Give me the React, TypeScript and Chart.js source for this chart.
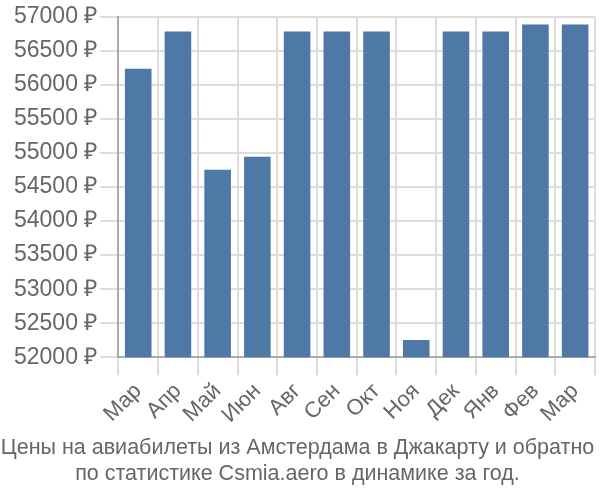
import React, { useEffect, useRef } from "react";
import { Chart, registerables } from "chart.js";

Chart.register(...registerables);

const categories = ["Мар", "Апр", "Май", "Июн", "Авг", "Сен", "Окт", "Ноя", "Дек", "Янв", "Фев", "Мар"];
const prices = [56250, 56800, 54770, 54960, 56800, 56800, 56800, 52270, 56800, 56800, 56900, 56900];
const titleLines = [
  "Цены на авиабилеты из Амстердама в Джакарту и обратно",
  "по статистике Csmia.aero в динамике за год.",
];

export default function App() {
  const ref = useRef<HTMLCanvasElement>(null);
  useEffect(() => {
    const chart = new Chart(ref.current!, {
      type: "bar",
      data: {
        labels: categories,
        datasets: [
          {
            data: prices,
            backgroundColor: "#4e79a7",
            borderColor: "rgba(255,255,255,0.35)",
            borderWidth: 1,
            barPercentage: 0.72,
            categoryPercentage: 1,
          },
        ],
      },
      options: {
        animation: false,
        responsive: false,
        layout: { padding: { right: 5, top: 4, left: 0 } },
        plugins: {
          legend: { display: false },
          tooltip: { enabled: false },
          title: {
            display: true,
            position: "bottom",
            text: titleLines,
            color: "#666",
            font: { family: "Liberation Sans, Arial, sans-serif", size: 21.5, weight: "normal", lineHeight: 1.2 },
            padding: { top: 4, bottom: 13 },
          },
        },
        scales: {
          x: {
            grid: { color: "#ddd", lineWidth: 2, offset: true, tickLength: 18 },
            border: { color: "#aaa", width: 2 },
            ticks: {
              color: "#666",
              font: { family: "Liberation Sans, Arial, sans-serif", size: 22 },
              maxRotation: 45,
              minRotation: 45,
              autoSkip: false,
              padding: 3,
            },
          },
          y: {
            min: 52000,
            max: 57000,
            afterFit: (scale: any) => {
              scale.width += 11;
            },
            grid: { color: "#ddd", lineWidth: 2, tickLength: 18 },
            border: { color: "#aaa", width: 2 },
            ticks: {
              stepSize: 500,
              color: "#666",
              font: { family: "Liberation Sans, Arial, sans-serif", size: 23 },
              callback: (v) => v + " ₽",
              padding: 3,
            },
          },
        },
      },
    });
    return () => chart.destroy();
  }, []);
  return (
    <div style={{ position: "absolute", left: 0, top: 0, width: 600, height: 500 }}>
      <canvas ref={ref} width={600} height={500} />
    </div>
  );
}
